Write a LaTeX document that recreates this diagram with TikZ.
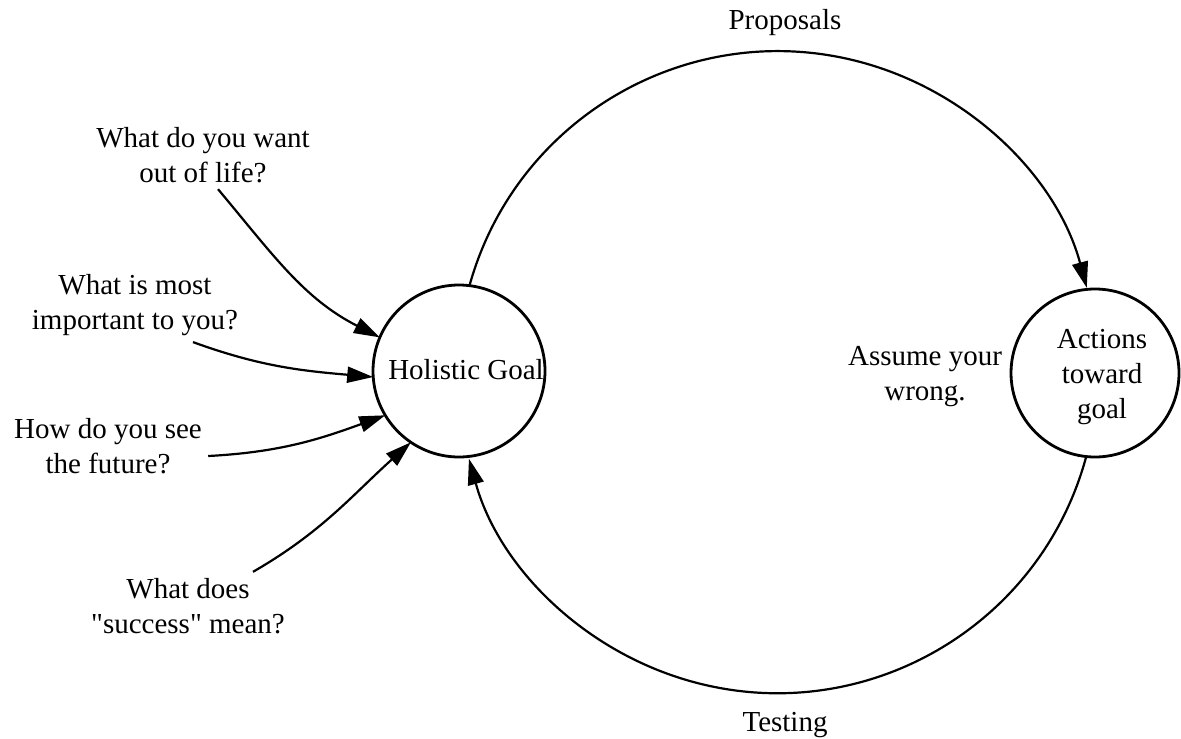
\documentclass[tikz,border=0pt]{standalone}
\usepackage{fontspec}
\setmainfont{Liberation Serif}[Ligatures=TeXOff]
\usetikzlibrary{arrows.meta,calc}
\begin{document}
\begin{tikzpicture}[x=0.5pt,y=0.5pt,
  every node/.style={font=\fontsize{14.5}{17.5}\selectfont, inner sep=0pt, align=center},
  ring/.style={draw, circle, line width=1.4pt, outer sep=0pt},
  conn/.style={line width=1.1pt, -{Triangle[length=13pt,width=8pt]}},
]
\useasboundingbox (0,0) rectangle (1181,-738);
% circles
\node[ring, minimum size=86pt] (H) at (459,-371) {};
\node (Ht) at (466,-370) {Holistic Goal};
\node[ring, minimum size=84pt] (A) at (1095,-373) {};
\node (At) at (1102,-377) {Actions\\toward\\goal};
% labels
\node (prop) at (785,-23) {Proposals};
\node (test) at (785,-725) {Testing};
\node (assume) at (925,-377) {Assume your\\wrong.};
\node (q1) at (203,-155) {What do you want\\out of life?};
\node (q2) at (135,-305) {What is most\\important to you?};
\node (q3) at (108,-446) {How do you see\\the future?};
\node (q4) at (188,-606) {What does\\"success" mean?};
% cycle arcs
\draw[conn] (H.83.5) arc[start angle=164.5, end angle=15.1, radius=320];
\draw[conn] (A.-96.3) arc[start angle=-15.1, end angle=-164.5, radius=320];
% question arrows
\draw[conn] ($(q1.south)+(15,-6)$) to[out=-50, in=153] (H.157.5);
\draw[conn] ($(q2.south)+(58,-6)$) to[out=-20, in=175] (H.184.6);
\draw[conn] ($(q3.east)+(6,-10)$) to[out=3, in=200] (H.211);
\draw[conn] ($(q4.north)+(65,6)$) to[out=30, in=222] (H.236);
\end{tikzpicture}
\end{document}
